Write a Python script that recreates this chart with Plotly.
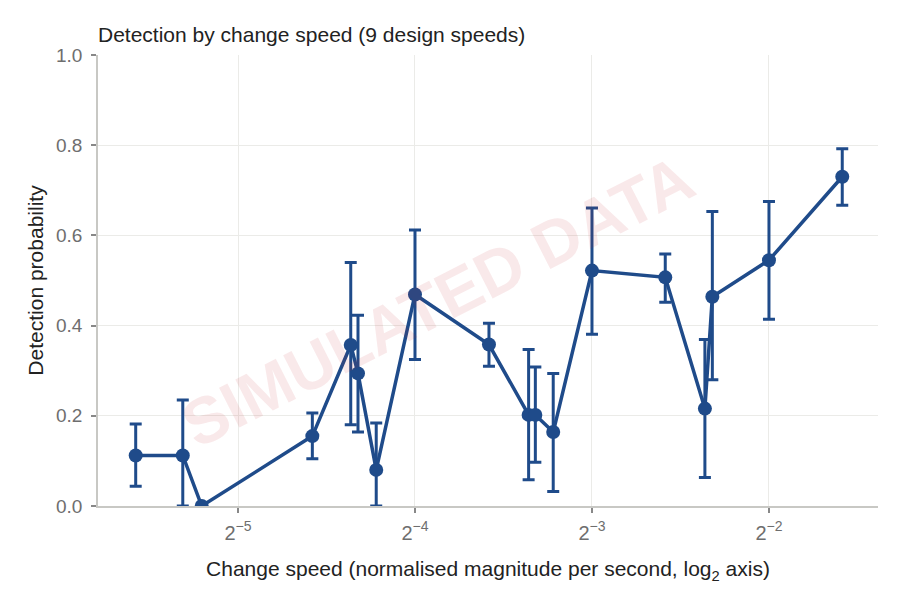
import numpy as np
import plotly.graph_objects as go

# log2 of change speed (normalised magnitude per second)
speed_log2 = [-5.578, -5.312, -5.205, -4.580, -4.363, -4.322, -4.219, -4.000, -3.582,
              -3.358, -3.320, -3.219, -3.000, -2.586, -2.362, -2.320, -2.000, -1.586]
detection = [0.112, 0.112, 0.000, 0.155, 0.357, 0.294, 0.080, 0.469, 0.358,
             0.202, 0.202, 0.164, 0.522, 0.507, 0.216, 0.464, 0.545, 0.730]
ci_low = [0.044, 0.000, 0.000, 0.105, 0.180, 0.164, 0.000, 0.325, 0.310,
          0.058, 0.097, 0.032, 0.381, 0.452, 0.063, 0.280, 0.414, 0.667]
ci_high = [0.182, 0.235, 0.000, 0.206, 0.540, 0.423, 0.184, 0.612, 0.405,
           0.347, 0.308, 0.294, 0.661, 0.559, 0.369, 0.653, 0.675, 0.792]

tick_exp = [-5, -4, -3, -2]
tick_text = ["2<sup>\u2212%d</sup>" % (-e) for e in tick_exp]

speed = np.power(2.0, speed_log2)
det = np.array(detection)
err_plus = np.array(ci_high) - det
err_minus = det - np.array(ci_low)

COLOR = "#1f4b8a"
FONT = "Liberation Sans, Arial, Helvetica, sans-serif"
OFF = 8  # page body margin offset

fig = go.Figure()
fig.add_trace(go.Scatter(
    x=speed, y=det, mode="lines+markers",
    line=dict(color=COLOR, width=3.5),
    marker=dict(color=COLOR, size=14),
    error_y=dict(type="data", symmetric=False, array=err_plus, arrayminus=err_minus,
                 color=COLOR, thickness=3, width=6),
    showlegend=False,
))

log10_2 = np.log10(2.0)
fig.update_layout(
    width=900, height=600,
    margin=dict(l=98-OFF, r=22+OFF, t=55-OFF, b=94+OFF),
    paper_bgcolor="white", plot_bgcolor="white",
    font=dict(family=FONT, size=18, color="#222222"),
    title=dict(text="Detection by change speed (9 design speeds)", x=(98-OFF)/900, xanchor="left",
               xref="container", y=1-(35-OFF)/600, yanchor="middle", yref="container",
               font=dict(size=21, color="#222222")),
    xaxis=dict(
        type="log", range=[-5.791*log10_2, -1.384*log10_2],
        tickvals=[2.0**e for e in tick_exp], ticktext=tick_text,
        showgrid=True, gridcolor="#ebebe8", gridwidth=1,
        showline=True, linecolor="#c8c8c4", linewidth=1.5,
        ticks="outside", ticklen=5, tickcolor="#888888", tickwidth=1.5,
        tickfont=dict(size=20, color="#6e6e6e"), ticklabelstandoff=3,
        title=dict(text="Change speed (normalised magnitude per second, log<sub>2</sub> axis)",
                   font=dict(size=21, color="#222222"), standoff=19),
        zeroline=False,
    ),
    yaxis=dict(
        range=[0, 1], dtick=0.2, tickformat=".1f",
        showgrid=True, gridcolor="#ebebe8", gridwidth=1,
        showline=True, linecolor="#c8c8c4", linewidth=1.5,
        ticks="outside", ticklen=5, tickcolor="#888888", tickwidth=1.5,
        tickfont=dict(size=19, color="#6e6e6e"), ticklabelstandoff=5,
        title=dict(text="Detection probability", font=dict(size=21, color="#222222"), standoff=7),
        zeroline=False,
    ),
    annotations=[dict(
        text="<b>SIMULATED DATA</b>", xref="paper", yref="paper",
        x=0.435, y=0.454, xanchor="center", yanchor="middle",
        textangle=-27, showarrow=False,
        font=dict(size=65, color="rgba(200,40,50,0.10)", family=FONT),
    )],
)

fig.write_html("out.html")
